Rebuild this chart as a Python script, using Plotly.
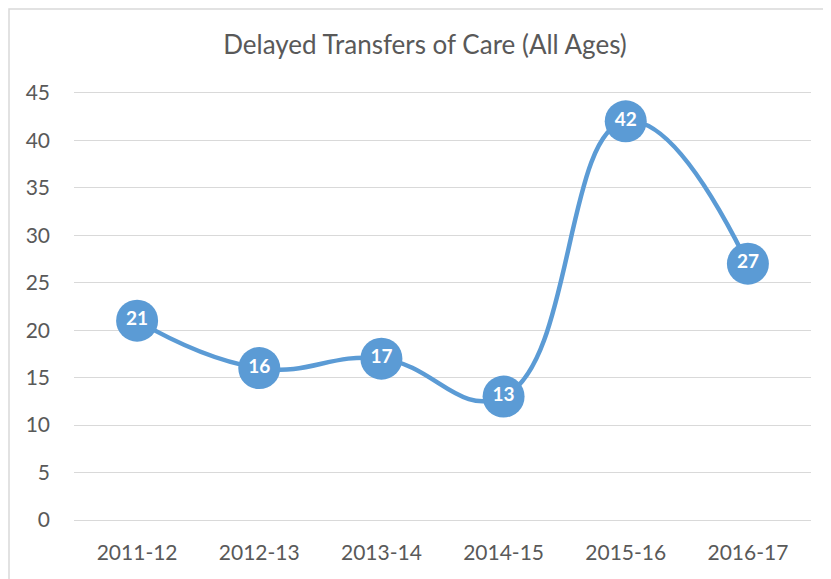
import plotly.graph_objects as go

categories = ["2011-12", "2012-13", "2013-14", "2014-15", "2015-16", "2016-17"]
values = [21, 16, 17, 13, 42, 27]
y_ticks = [0, 5, 10, 15, 20, 25, 30, 35, 40, 45]

BLUE = "#5B9BD5"
GRAY = "#595959"
GRID = "#D9D9D9"
FONT = "Lato"

fig = go.Figure()
fig.add_trace(go.Scatter(
    x=categories, y=values,
    mode="lines+markers+text",
    line=dict(color=BLUE, width=4.5, shape="spline", smoothing=1.3),
    marker=dict(color=BLUE, size=42, line=dict(width=0)),
    text=[str(v) for v in values],
    textposition="middle center",
    textfont=dict(color="white", size=19, family=FONT, weight="bold"),
    cliponaxis=False,
    hoverinfo="skip",
))

# figure is drawn inside an 8px page margin
W, H = 823, 571
L, R = 66, 20
y_top = 45.3
plot_bottom = 512
plot_top = 85 - 0.3 * (512 - 85) / 45
T = round(plot_top)
B = H - plot_bottom
pw, ph = W - L - R, H - T - B

fig.update_layout(
    width=W, height=H,
    margin=dict(l=L, r=R, t=T, b=B),
    paper_bgcolor="white", plot_bgcolor="white",
    showlegend=False,
    font=dict(family=FONT, color=GRAY, size=21),
    title=dict(text="Delayed Transfers of Care (All Ages)", x=417 / W, xanchor="center",
               y=1 - 37 / H, yanchor="middle", font=dict(size=26, color=GRAY, family=FONT),
               automargin=False),
    xaxis=dict(type="category", showgrid=False, showline=False, zeroline=False, ticks="",
               tickfont=dict(size=21, color=GRAY), ticklabelstandoff=18, automargin=False),
    yaxis=dict(range=[0, y_top], tickvals=y_ticks, showgrid=True, gridcolor=GRID, gridwidth=1.3,
               zeroline=True, zerolinecolor=GRID, zerolinewidth=1.3, showline=False, ticks="",
               tickfont=dict(size=21, color=GRAY), ticklabelstandoff=23, automargin=False),
    shapes=[dict(type="rect", xref="paper", yref="paper",
                 x0=(1 - L) / pw, x1=(W + 10 - L) / pw,
                 y0=-(B + 10) / ph, y1=1 + (T - 1) / ph,
                 line=dict(color=GRID, width=1.5), layer="below")],
)

fig.write_html("out.html")
